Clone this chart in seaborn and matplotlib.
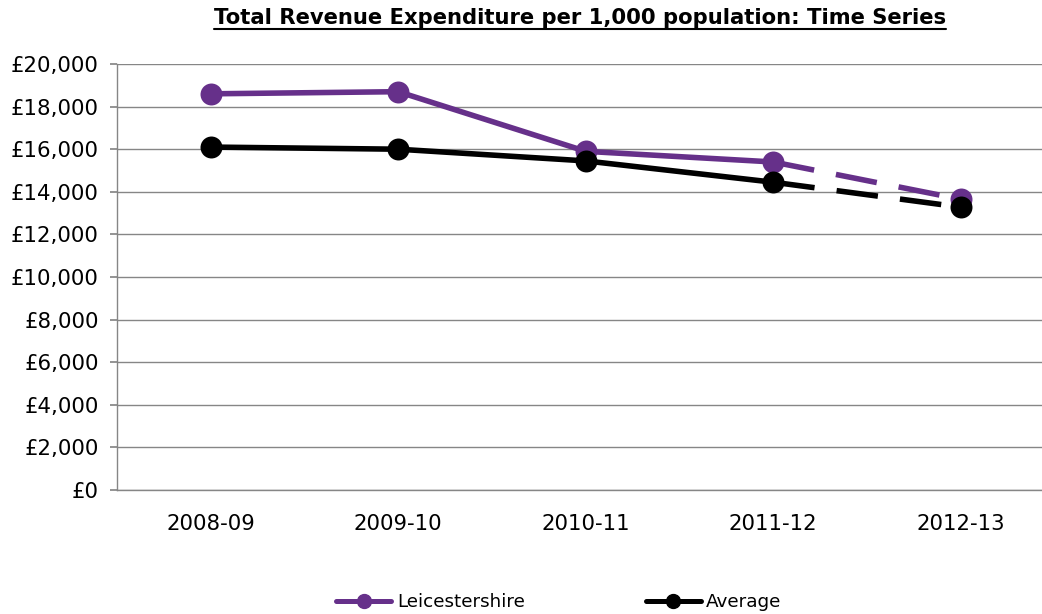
import matplotlib
matplotlib.use("Agg")
import matplotlib.pyplot as plt
import pandas as pd
import seaborn as sns
from matplotlib.lines import Line2D
from matplotlib.ticker import FuncFormatter

years = ["2008-09", "2009-10", "2010-11", "2011-12", "2012-13"]
leics = [18600, 18700, 15900, 15400, 13650]
average = [16100, 16000, 15450, 14450, 13280]

series_names = ["Leicestershire", "Average"]
colors = {"Leicestershire": "#66308A", "Average": "#000000"}

df = pd.concat(
    [
        pd.DataFrame({"pos": range(len(years)), "year": years, "value": leics, "series": "Leicestershire"}),
        pd.DataFrame({"pos": range(len(years)), "year": years, "value": average, "series": "Average"}),
    ],
    ignore_index=True,
)

sns.set_theme(style="white")
plt.rcParams["font.family"] = ["DejaVu Sans"]

fig = plt.figure(figsize=(10.42, 6.14), dpi=100)
ax = fig.add_axes([117 / 1042, 1 - 490 / 614, (1042 - 117) / 1042, (490 - 64) / 614])

last = len(years) - 1
for name in series_names:
    sub = df[df["series"] == name]
    solid = sub[sub["pos"] <= last - 1]
    dashed = sub[sub["pos"] >= last - 1]
    sns.lineplot(data=dashed, x="pos", y="value", color=colors[name], linewidth=4,
                 linestyle=(0, (7.5, 4)), ax=ax, legend=False)
    sns.lineplot(data=solid, x="pos", y="value", color=colors[name], linewidth=4,
                 ax=ax, legend=False)
    ax.scatter(sub["pos"], sub["value"], s=250, color=colors[name], zorder=3, linewidths=0)

ax.set_ylim(0, 20000)
ax.set_yticks(range(0, 20001, 2000))
ax.yaxis.set_major_formatter(FuncFormatter(lambda v, p: f"£{int(v):,}"))
ax.set_xlim(-0.5, -0.5 + (1042 - 117) / 187.5)
ax.set_xticks(range(len(years)))
ax.set_xticklabels(years)
ax.set_xlabel("")
ax.set_ylabel("")

ax.grid(axis="y", color="#868686", linewidth=1)
ax.set_axisbelow(True)
for side in ["top", "right"]:
    ax.spines[side].set_visible(False)
for side in ["left", "bottom"]:
    ax.spines[side].set_color("#868686")
    ax.spines[side].set_linewidth(1)

ax.tick_params(axis="y", which="both", left=True, length=5, color="#868686",
               labelsize=15.3, pad=8, labelcolor="#000000")
ax.tick_params(axis="x", bottom=False, labelsize=15.3, pad=11, labelcolor="#000000")

title = fig.text(580 / 1042, 1 - 18 / 614,
                 "Total Revenue Expenditure per 1,000 population: Time Series",
                 ha="center", va="center", fontsize=15.2, fontweight="bold", color="#000000")
# underline for the title
fig.canvas.draw()
bb = title.get_window_extent()
fig.add_artist(Line2D([bb.x0 / fig.bbox.width, bb.x1 / fig.bbox.width],
                      [(bb.y0 - 1) / fig.bbox.height] * 2,
                      transform=fig.transFigure, color="#000000", linewidth=1.5))

handles = [
    Line2D([0], [0], color=colors[n], linewidth=3.6, marker="o", markersize=10)
    for n in series_names
]
leg = fig.legend(handles, series_names, loc="center", bbox_to_anchor=(559 / 1042, 1 - 602 / 614),
                 ncol=2, frameon=False, fontsize=13.2, handlelength=3.0, handletextpad=0.3,
                 columnspacing=6.6)
for t in leg.get_texts():
    t.set_color("#000000")

fig.savefig("out.png", dpi=100)
